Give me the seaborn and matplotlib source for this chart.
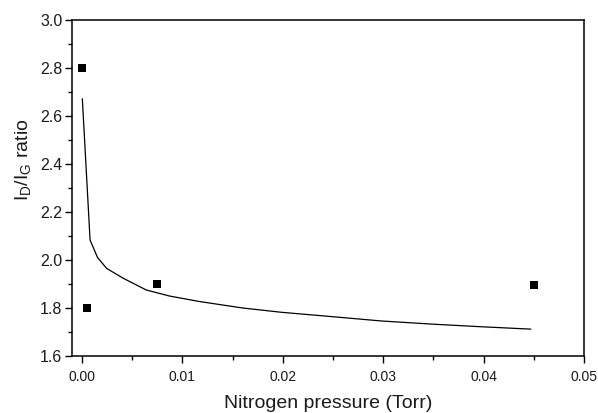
import matplotlib
matplotlib.use("Agg")
import matplotlib.pyplot as plt
from matplotlib.ticker import MultipleLocator
import seaborn as sns
import pandas as pd

# measured points
pressure = [0.0, 0.0005, 0.0075, 0.045]
ratio = [2.80, 1.80, 1.90, 1.895]

# fitted curve
fit_x = [0.00003, 0.0008, 0.00155, 0.00245, 0.0041, 0.0064, 0.0087, 0.0117,
         0.016, 0.0199, 0.0249, 0.0298, 0.0348, 0.0397, 0.0447]
fit_y = [2.672, 2.083, 2.010, 1.965, 1.924, 1.875, 1.850, 1.827,
         1.800, 1.782, 1.764, 1.746, 1.733, 1.722, 1.712]

xticks = [0.00, 0.01, 0.02, 0.03, 0.04, 0.05]
yticks = [1.6, 1.8, 2.0, 2.2, 2.4, 2.6, 2.8, 3.0]

sns.set_style("ticks")
plt.rcParams['font.family'] = ['Liberation Sans', 'DejaVu Sans']
plt.rcParams['mathtext.fontset'] = 'custom'
plt.rcParams['mathtext.rm'] = 'Liberation Sans'
plt.rcParams['mathtext.it'] = 'Liberation Sans'

fig = plt.figure(figsize=(5.98, 4.13), dpi=100)
ax = fig.add_axes([0.1204, 0.138, 0.8562, 0.8136])

pts = pd.DataFrame({"x": pressure, "y": ratio})
fit = pd.DataFrame({"x": fit_x, "y": fit_y})

sns.lineplot(data=fit, x="x", y="y", ax=ax, color="black", linewidth=0.9, sort=False)
sns.scatterplot(data=pts, x="x", y="y", ax=ax, color="black", marker="s", s=37,
                edgecolor="black", linewidth=0, zorder=3)

ax.set_xlim(-0.001, 0.05)
ax.set_ylim(1.6, 3.0)
ax.set_xticks(xticks)
ax.set_xticklabels([f"{t:.2f}" for t in xticks])
ax.set_yticks(yticks)
ax.set_yticklabels([f"{t:.1f}" for t in yticks])
ax.xaxis.set_minor_locator(MultipleLocator(0.005))
ax.yaxis.set_minor_locator(MultipleLocator(0.1))
ax.tick_params(which="major", direction="out", length=5, width=1.0,
               color="black", labelcolor="#1a1a1a")
ax.tick_params(axis="x", which="major", labelsize=10, pad=5)
ax.tick_params(axis="y", which="major", labelsize=11.5, pad=2)
ax.tick_params(which="minor", direction="out", length=2.7, width=1.0, color="black")
ax.tick_params(top=False, right=False)

for s in ax.spines.values():
    s.set_visible(True)
    s.set_linewidth(1.1)
    s.set_color("black")

ax.set_xlabel("Nitrogen pressure (Torr)", fontsize=14, color="#1a1a1a", labelpad=8)
ax.set_ylabel(r"I$_\mathregular{D}$/I$_\mathregular{G}$ ratio", fontsize=14,
              color="#1a1a1a")
ax.yaxis.set_label_coords(-0.077, 0.583)

fig.savefig("out.png", dpi=100)
